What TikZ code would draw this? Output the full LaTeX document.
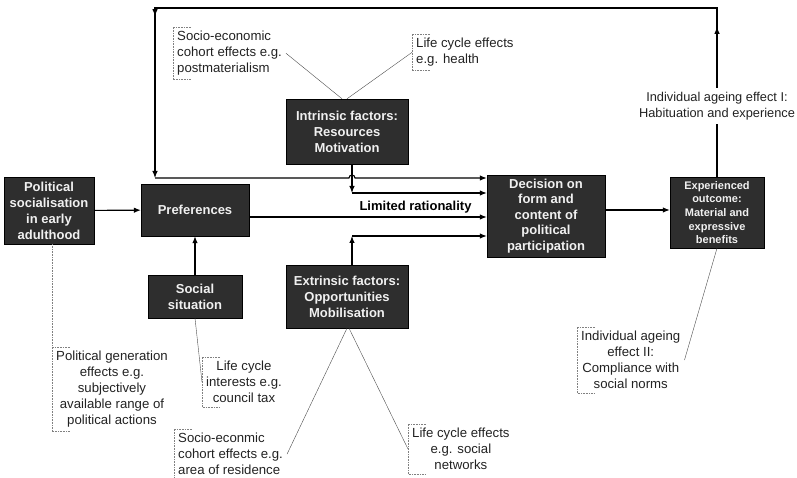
\documentclass[tikz,border=0pt]{standalone}
\usepackage{fontspec}
\setmainfont{Liberation Sans}
\usetikzlibrary{arrows.meta}
\usetikzlibrary{decorations.markings}
\definecolor{boxgray}{HTML}{2E2E2E}
\definecolor{inkgray}{HTML}{222222}
\newcommand{\notebracket}[1]{%
  \draw[notemark] ([xshift=18pt]#1.north west) -- (#1.north west)
    -- (#1.south west) -- ([xshift=18pt]#1.south west);}

\begin{document}
\begin{tikzpicture}[x=1pt, y=-1pt, >={Latex[length=7pt,width=5.5pt]}]
\tikzstyle{block} = [draw=black, fill=boxgray, text=white!94!black, rectangle,
    align=center, inner sep=2pt, font=\fontsize{13}{16}\selectfont\bfseries]
\tikzstyle{note} = [anchor=north west, inner sep=4pt, text=inkgray,
    font=\fontsize{13.2}{16}\selectfont]
\tikzstyle{notemark} = [densely dotted, gray, line width=0.6pt]
\tikzstyle{link} = [gray!60!black, line width=0.4pt]
\tikzstyle{flow} = [line width=1.1pt]
    \useasboundingbox (0,0) rectangle (797,478);
    % We start by placing the blocks
    \node [block, minimum width=90pt, minimum height=67pt] (politsoc) at (49,210.5)
        {Political\\socialisation\\in early\\adulthood};
    \node [block, minimum width=108pt, minimum height=52pt] (pref) at (195,210) {Preferences};
    \node [block, below of=pref, node distance=86.5pt, minimum width=94pt,
        minimum height=43pt] (situation) {Social\\situation};
    \node [block, minimum width=122pt, minimum height=65pt] (intrinsic) at (347,131.5)
        {Intrinsic factors:\\Resources\\Motivation};
    \node [block, below of=intrinsic, node distance=165pt, minimum width=122pt,
        minimum height=63pt] (extrinsic) {Extrinsic factors:\\Opportunities\\Mobilisation};
    \node [block, minimum width=118pt, minimum height=82pt,
        font=\fontsize{13}{15.5}\selectfont\bfseries] (decision) at (546,216)
        {Decision on\\form and\\content of\\political\\participation};
    \node [block, minimum width=94pt, minimum height=71pt,
        font=\fontsize{11}{13.7}\selectfont\bfseries] (outcome) at (717,212.5)
        {Experienced\\outcome:\\Material and\\expressive\\benefits};

    % The dotted notes and their thin links
    \node [note, align=left] (postmat) at (173,27)
        {Socio-economic\\cohort effects e.g.\\postmaterialism};
    \node [note, align=left] (health) at (412,34) {Life cycle effects\\e.g. health};
    \node [note, align=center] (generation) at (52,347)
        {Political generation\\effects e.g.\\subjectively\\available range of\\political actions};
    \node [note, align=center] (interests) at (202,357)
        {Life cycle\\interests e.g.\\council tax};
    \node [note, align=left] (residence) at (174,429)
        {Socio-econmic\\cohort effects e.g.\\area of residence};
    \node [note, align=center] (networks) at (408,424)
        {Life cycle effects\\e.g. social\\networks};
    \node [note, align=center] (compliance) at (577,327)
        {Individual ageing\\effect II:\\Compliance with\\social norms};
    \notebracket{postmat}
    \notebracket{health}
    \notebracket{interests}
    \notebracket{residence}
    \notebracket{networks}
    \notebracket{compliance}
    \draw [notemark] ([xshift=18pt]generation.north west) -- (generation.north west);
    \draw [notemark] (generation.west |- politsoc.south) -- (generation.south west)
        -- ([xshift=18pt]generation.south west);
    \draw [link] (postmat.east) -- ([xshift=-5pt]intrinsic.north);
    \draw [link] (health.west) -- (intrinsic.north);
    \draw [link] (situation.south) -- (interests.west);
    \draw [link] (extrinsic.south) -- (residence.east);
    \draw [link] ([xshift=2pt]extrinsic.south) -- (networks.west);
    \draw [link] (outcome.south) -- (compliance.east);

    % Main flows into the decision
    \coordinate (intin) at (352,193);
    \coordinate (extin) at (352,236);
    \draw [flow,->] (politsoc) -- (pref);
    \draw [flow,->] (situation) -- (pref);
    \draw [flow,->] ([yshift=-7pt]pref.east) -- node [pos=0.7, above,
        font=\fontsize{13}{16}\selectfont\bfseries] {Limited rationality}
        ([yshift=-7pt]pref.east -| decision.west);
    \draw [flow,->] (intin |- intrinsic.south) -- (intin);
    \draw [flow,->] (intin) -- (intin -| decision.west);
    \draw [flow,->] (extin |- extrinsic.north) -- (extin);
    \draw [flow,->] (extin) -- (extin -| decision.west);
    \draw [flow,->] ([yshift=2.5pt]outcome.west -| decision.east) -- ([yshift=2.5pt]outcome.west);

    % Feedback loop over the top, hopping the intrinsic line
    \coordinate (fbtop) at (717,8);
    \coordinate (fbleft) at (155,8);
    \coordinate (fbcorner) at (155,178);
    \coordinate (fbhop) at (349,178);
    \draw [flow,->, postaction={decorate}, decoration={markings,
        mark=at position 150pt with {\arrow{>}},
        mark=at position 739pt with {\arrow{>}}}]
        (outcome.north) -- (fbtop) -- (fbleft) -- (fbcorner);
    \draw [flow,->] (fbcorner) -- (fbhop) arc (180:0:3pt) -- (fbcorner -| decision.west);
    \node [fill=white, inner sep=4pt, align=center, text=inkgray,
        font=\fontsize{12.8}{16}\selectfont] (habituation) at (717,106)
        {Individual ageing effect I:\\Habituation and experience};
\end{tikzpicture}
\end{document}
